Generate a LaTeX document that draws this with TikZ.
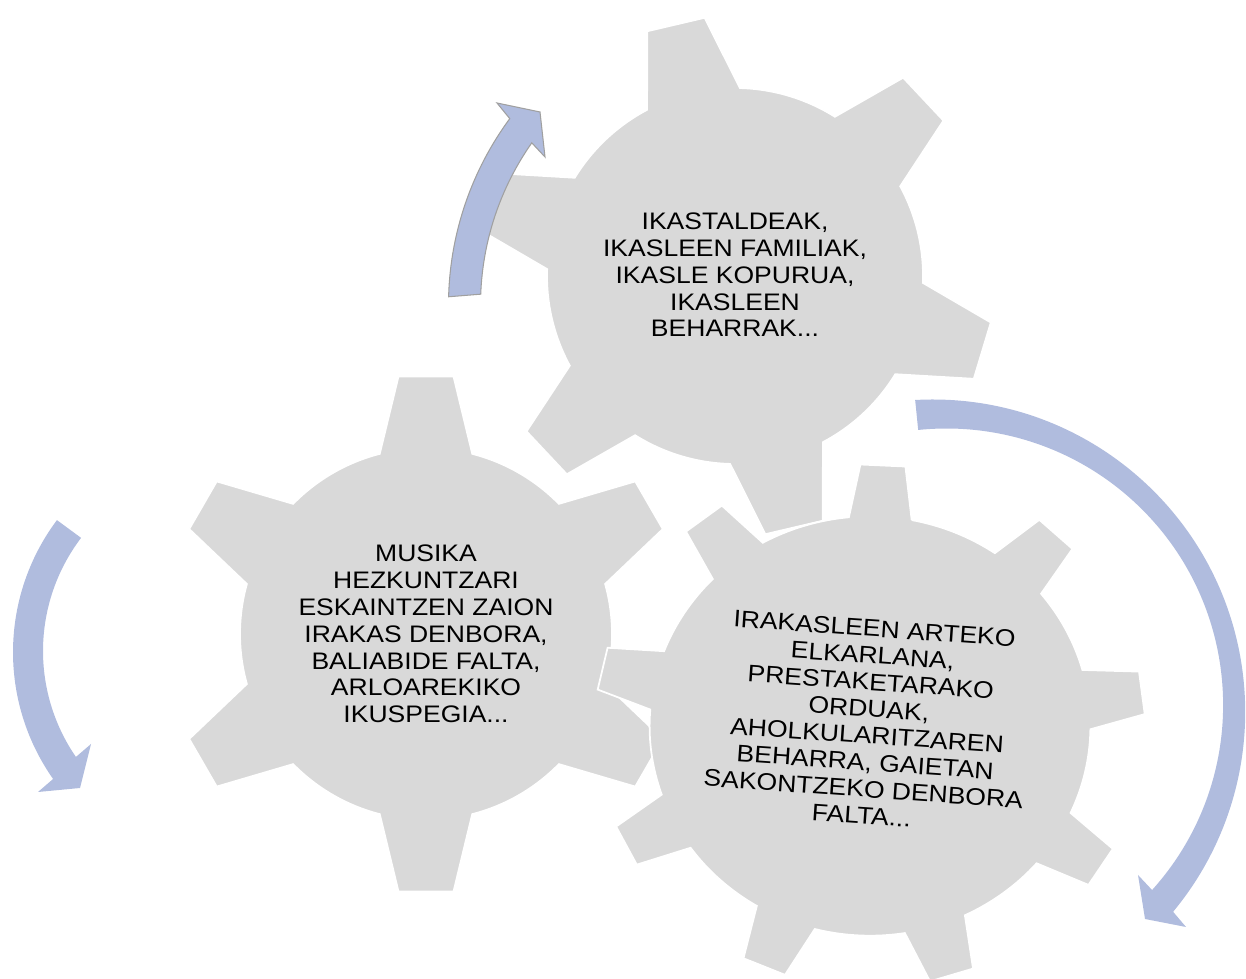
\documentclass[tikz,border=0pt]{standalone}
\usepackage{fontspec}
\newfontfamily\gearfont{Liberation Sans}[FakeStretch=1.11]
\usepackage{xcolor}

\definecolor{gearfill}{RGB}{217,217,217}
\definecolor{arrowblue}{RGB}{176,188,222}
\definecolor{arrowline}{RGB}{160,160,160}

\tikzset{
  gearbody/.style={fill=gearfill, draw=white, line width=1pt},
  geartext/.style={align=center, inner sep=0pt, font=\gearfont\fontsize{13.6}{15.25}\selectfont},
  cyclearrow/.style={fill=arrowblue}
}

% [scope options]{x}{y}{teeth}{first tooth}{body r}{tip r}{base half angle}{tip half angle}
\newcommand{\drawgear}[9][]{%
  \begin{scope}[shift={(#2,#3)},#1]
    \pgfmathsetmacro{\stp}{360/#4}
    \path[gearbody] ({#5-#8}:#6)
      \foreach \k in {1,...,#4}{
        -- ({#5+(\k-1)*\stp-#9}:#7) -- ({#5+(\k-1)*\stp+#9}:#7)
        -- ({#5+(\k-1)*\stp+#8}:#6)
        arc[start angle={#5+(\k-1)*\stp+#8}, end angle={#5+\k*\stp-#8}, radius=#6]
      } -- cycle;
  \end{scope}}

\begin{document}
\begin{tikzpicture}[x=0.02cm, y=0.02cm]

\useasboundingbox (0,0) rectangle (1246,979);

% gears
\drawgear{735}{703}{6}{103.2}{188}{260}{14.7}{6.5}
\drawgear{426}{345}{6}{90}{186}{259}{14.4}{6.1}
\drawgear[xscale=1.03, yscale=0.98]{870}{253}{9}{87.3}{214}{267}{8.2}{4.7}

% nodes
\node[geartext] (ikasle) at (735,704)
  {IKASTALDEAK,\\IKASLEEN FAMILIAK,\\IKASLE KOPURUA,\\IKASLEEN\\BEHARRAK...};
\node[geartext] (musika) at (426,345)
  {MUSIKA\\HEZKUNTZARI\\ESKAINTZEN ZAION\\IRAKAS DENBORA,\\BALIABIDE FALTA,\\ARLOAREKIKO\\IKUSPEGIA...};
\node[geartext, rotate=-4] (irakasle) at (868,257)
  {IRAKASLEEN ARTEKO\\ELKARLANA,\\PRESTAKETARAKO\\ORDUAK,\\AHOLKULARITZAREN\\BEHARRA, GAIETAN\\SAKONTZEKO DENBORA\\FALTA...};

% arrows
\filldraw[cyclearrow, draw=arrowline, line width=0.6pt]
  ([shift={(762.5,674)}]178.5:314) arc[start angle=178.5, end angle=143.6, radius=314]
  -- (497,876) -- (540,867) -- (545,822)
  -- ([shift={(762.5,674)}]144.9:282) arc[start angle=144.9, end angle=177.8, radius=282] -- cycle;

\fill[cyclearrow]
  ([shift={(932.6,266.9)}]93.2:312.6) arc[start angle=93.2, end angle=-39.7, radius=312.6]
  -- (1186,52) -- (1145,60) -- (1138,104)
  -- ([shift={(946.6,274)}]-42:276.5) arc[start angle=-42, end angle=95.9, radius=276.5] -- cycle;

\fill[cyclearrow]
  ([shift={(233.5,326.8)}]143.2:220.5) arc[start angle=143.2, end angle=215.1, radius=220.5]
  -- (38,187) -- (80,191) -- (91,235)
  -- ([shift={(230.1,328)}]214.5:187.1) arc[start angle=214.5, end angle=142.8, radius=187.1] -- cycle;

\end{tikzpicture}
\end{document}
